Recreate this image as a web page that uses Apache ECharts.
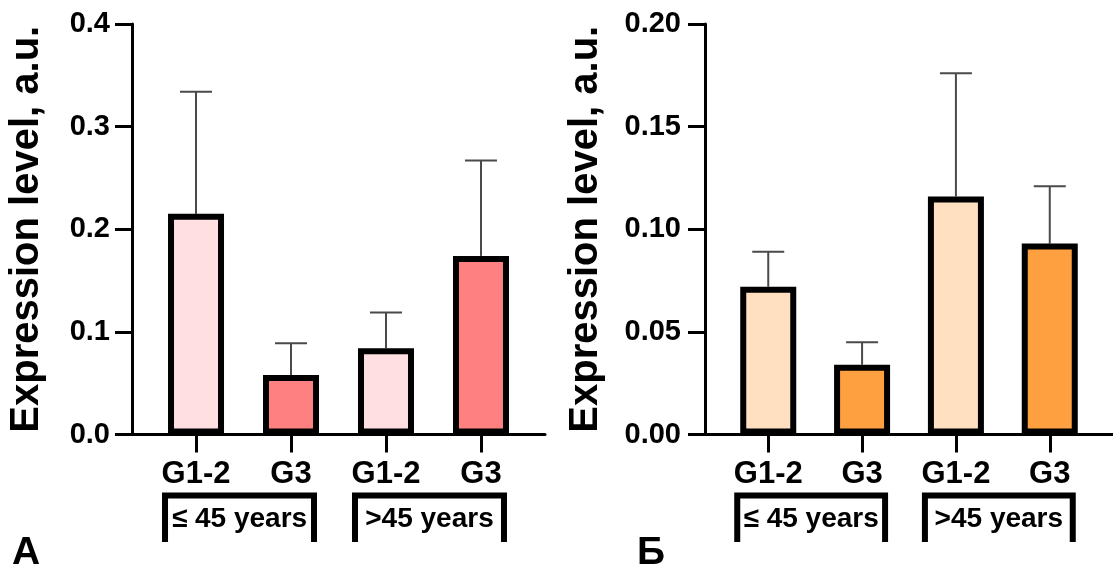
<!DOCTYPE html>
<html>
<head>
<meta charset="utf-8">
<script src="https://cdn.jsdelivr.net/npm/echarts@6/dist/echarts.min.js"></script>
<style>
  html, body { margin: 0; padding: 0; background: #fff; }
  #chart { width: 1113px; height: 573px; }
</style>
</head>
<body>
<div id="chart"></div>
<script>
// Bar groups: tumour grade within each age group
const categories = ['G1-2', 'G3', 'G1-2', 'G3'];
const ageGroups = ['≤ 45 years', '>45 years'];
const groupMembers = [[0, 1], [2, 3]];

// Panel А: means and upper error (a.u.)
const meansA = [0.215, 0.058, 0.084, 0.174];
const errorsA = [0.119, 0.031, 0.035, 0.093];
const ticksA = [0.0, 0.1, 0.2, 0.3, 0.4];

// Panel Б: means and upper error (a.u.)
const meansB = [0.072, 0.034, 0.116, 0.093];
const errorsB = [0.017, 0.011, 0.060, 0.028];
const ticksB = [0.00, 0.05, 0.10, 0.15, 0.20];

const panelLetters = ['А', 'Б'];
const yTitle = 'Expression level, a.u.';

const FONT = '"Liberation Sans", Arial, sans-serif';
const fillsA = ['#FFDFE1', '#FF8080', '#FFDFE1', '#FF8080'];
const fillsB = ['#FFE1C2', '#FFA040', '#FFE1C2', '#FFA040'];

const chart = echarts.init(document.getElementById('chart'), null, { renderer: 'canvas' });

function xAxisFor(gridIndex) {
  return {
    gridIndex: gridIndex,
    type: 'value',
    min: -0.674,
    max: 3.674,
    splitLine: { show: false },
    axisLine: { show: true, onZero: false, lineStyle: { color: '#000', width: 3 } },
    axisTick: { show: true, customValues: [0, 1, 2, 3], length: 18, lineStyle: { color: '#000', width: 3 } },
    axisLabel: {
      customValues: [0, 1, 2, 3],
      formatter: v => categories[Math.round(v)],
      color: '#000', fontFamily: FONT, fontWeight: 'bold', fontSize: 31, lineHeight: 31, margin: 24
    }
  };
}

function yAxisFor(gridIndex, ticks, digits, gap, labelMargin) {
  return {
    gridIndex: gridIndex,
    type: 'value',
    min: ticks[0],
    max: ticks[ticks.length - 1],
    interval: ticks[1] - ticks[0],
    name: yTitle,
    nameLocation: 'middle',
    nameGap: gap,
    nameTextStyle: { color: '#000', fontFamily: FONT, fontWeight: 'bold', fontSize: 40 },
    splitLine: { show: false },
    axisLine: { show: true, onZero: false, lineStyle: { color: '#000', width: 3 } },
    axisTick: { show: true, length: 17, lineStyle: { color: '#000', width: 3 } },
    axisLabel: {
      formatter: v => v.toFixed(digits),
      color: '#000', fontFamily: FONT, fontWeight: 'bold', fontSize: 29, margin: labelMargin
    }
  };
}

function barSeries(idx, means, fills) {
  return {
    type: 'bar',
    xAxisIndex: idx, yAxisIndex: idx,
    barWidth: 56,
    z: 3,
    data: means.map((m, i) => ({
      value: [i, m],
      itemStyle: { color: fills[i], borderColor: '#000', borderWidth: 6 }
    }))
  };
}

function errorSeries(idx, means, errors) {
  return {
    type: 'custom',
    xAxisIndex: idx, yAxisIndex: idx,
    z: 2,
    data: means.map((m, i) => [i, m, m + errors[i]]),
    renderItem: (params, api) => {
      const base = api.coord([api.value(0), api.value(1)]);
      const top = api.coord([api.value(0), api.value(2)]);
      const style = { stroke: '#4a4a4a', lineWidth: 2 };
      return {
        type: 'group',
        children: [
          { type: 'line', shape: { x1: base[0], y1: base[1], x2: top[0], y2: top[1] }, style },
          { type: 'line', shape: { x1: top[0] - 16, y1: top[1], x2: top[0] + 16, y2: top[1] }, style }
        ]
      };
    }
  };
}

function bracketSeries(idx) {
  return {
    type: 'custom',
    xAxisIndex: idx, yAxisIndex: idx,
    clip: false,
    z: 4,
    data: groupMembers.map((g, i) => [g[0], g[1], 0, i]),
    renderItem: (params, api) => {
      const p0 = api.coord([api.value(0), api.value(2)]);
      const p1 = api.coord([api.value(1), api.value(2)]);
      const left = p0[0] - 31;
      const right = p1[0] + 23;
      const topY = p0[1] + 61;
      const bottomY = p0[1] + 107.5;
      return {
        type: 'group',
        children: [
          {
            type: 'polyline',
            shape: { points: [[left, bottomY], [left, topY], [right, topY], [right, bottomY]] },
            style: { stroke: '#000', lineWidth: 6, fill: null, lineJoin: 'miter' }
          },
          {
            type: 'text',
            style: {
              text: ageGroups[api.value(3)],
              x: (left + right) / 2, y: p0[1] + 85,
              align: 'center', verticalAlign: 'middle',
              fill: '#000', font: 'bold 28px ' + FONT
            }
          }
        ]
      };
    }
  };
}

chart.setOption({
  animation: false,
  backgroundColor: '#fff',
  title: [
    { text: panelLetters[0], left: 12, top: 534, padding: 0,
      textStyle: { color: '#000', fontFamily: FONT, fontWeight: 'bold', fontSize: 39 } },
    { text: panelLetters[1], left: 637, top: 534, padding: 0,
      textStyle: { color: '#000', fontFamily: FONT, fontWeight: 'bold', fontSize: 39 } }
  ],
  grid: [
    { left: 132, top: 24, width: 413, height: 410.5 },
    { left: 705, top: 24, width: 412, height: 410.5 }
  ],
  xAxis: [xAxisFor(0), xAxisFor(1)],
  yAxis: [
    yAxisFor(0, ticksA, 1, 85, 22),
    yAxisFor(1, ticksB, 2, 99, 24)
  ],
  series: [
    errorSeries(0, meansA, errorsA),
    barSeries(0, meansA, fillsA),
    bracketSeries(0),
    errorSeries(1, meansB, errorsB),
    barSeries(1, meansB, fillsB),
    bracketSeries(1)
  ]
});
</script>
</body>
</html>
